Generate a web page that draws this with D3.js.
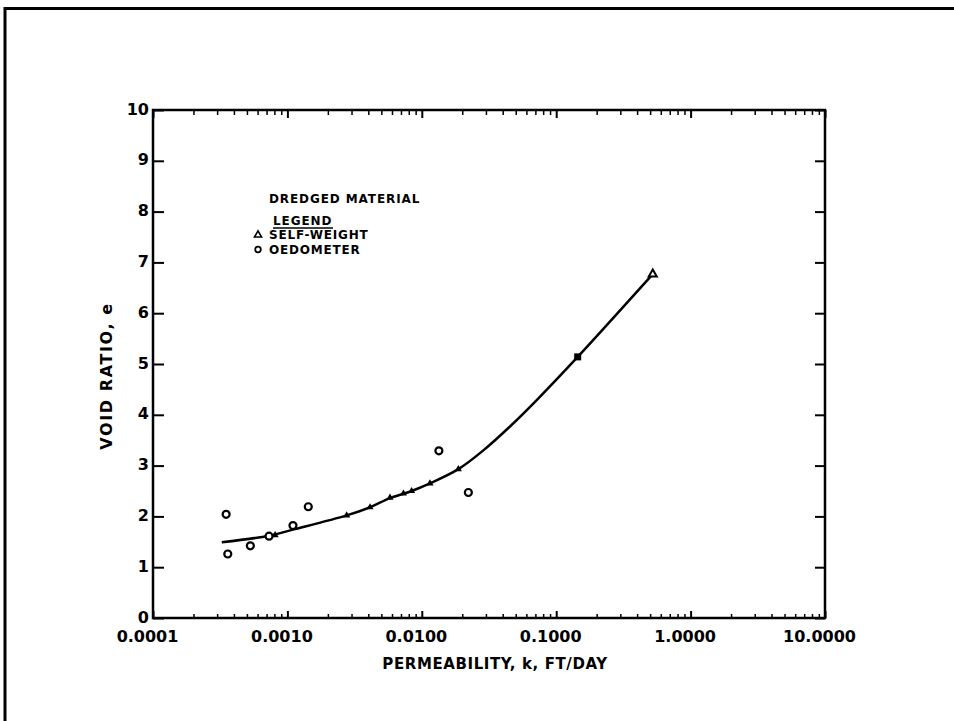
<!DOCTYPE html>
<html>
<head>
<meta charset="utf-8">
<script src="https://cdn.jsdelivr.net/npm/d3@7"></script>
<style>
body { margin: 0; background: #fff; }
svg { display: block; }
text { font-family: "DejaVu Sans", sans-serif; font-weight: bold; fill: #000; }
</style>
</head>
<body>
<div id="chart"></div>
<script>
let width = 954
let height = 721

// oedometer tests, open circles
let oedometerK = [0.00035, 0.00036, 0.00053, 0.00073, 0.0011, 0.00143, 0.0134, 0.0222]
let oedometerE = [2.04, 1.26, 1.42, 1.61, 1.82, 2.19, 3.29, 2.47]

// self-weight test, open triangle
let selfWeightK = [0.523]
let selfWeightE = [6.77]

// small filled marks sitting on the curve
let filledK = [0.00081, 0.00276, 0.00412, 0.0058, 0.0073, 0.0084, 0.0115, 0.0187]
let filledE = [1.63, 2.02, 2.18, 2.37, 2.45, 2.5, 2.65, 2.93]
let squareK = [0.1445]
let squareE = [5.14]

// fitted curve
let curveK = [0.000325, 0.00073, 0.0011, 0.00276, 0.00412, 0.0058, 0.0084, 0.0115, 0.0187, 0.0287, 0.0453, 0.0716, 0.1445, 0.523]
let curveE = [1.49, 1.62, 1.74, 2.02, 2.18, 2.36, 2.5, 2.65, 2.93, 3.3, 3.77, 4.29, 5.14, 6.77]

let xMajor = [0.0001, 0.001, 0.01, 0.1, 1, 10]
let xTickLabels = ['0.0001', '0.0010', '0.0100', '0.1000', '1.0000', '10.0000']
let yTicks = [0, 1, 2, 3, 4, 5, 6, 7, 8, 9, 10]

let plotLeft = 153
let plotRight = 825
let plotTop = 110
let plotBottom = 618

let svg = d3
	.select('#chart')
	.append('svg:svg')
	.attr('width', width)
	.attr('height', height)

svg.append('rect').attr('width', width).attr('height', height).attr('fill', '#fff')

// page frame (top and left edge only)
svg
	.append('path')
	.attr('d', `M5,${height} L5,8.5 L${width},8.5`)
	.attr('fill', 'none')
	.attr('stroke', '#000')
	.attr('stroke-width', 3)

let x = d3.scaleLog().domain([0.0001, 10]).range([plotLeft, plotRight])
let y = d3.scaleLinear().domain([0, 10]).range([plotBottom, plotTop])

let xMinor = x.ticks().filter(d => !xMajor.some(m => Math.abs(m - d) / m < 1e-6))

let clean = g => {
	g.select('.domain').remove()
	g.selectAll('line').attr('stroke', '#000')
}

// bottom axis
svg
	.append('g')
	.attr('transform', `translate(0,${plotBottom})`)
	.call(d3.axisBottom(x).tickValues(xMinor).tickSize(-4).tickFormat(''))
	.call(clean)
	.selectAll('line')
	.attr('stroke-width', 1.5)

let xAxis = svg
	.append('g')
	.attr('transform', `translate(0,${plotBottom})`)
	.call(
		d3
			.axisBottom(x)
			.tickValues(xMajor)
			.tickSize(-7)
			.tickPadding(13)
			.tickFormat((d, i) => xTickLabels[i])
	)
	.call(clean)
xAxis.selectAll('line').attr('stroke-width', 2)
xAxis.selectAll('text').attr('font-size', 16).attr('dx', -6)

// top axis
svg
	.append('g')
	.attr('transform', `translate(0,${plotTop})`)
	.call(d3.axisTop(x).tickValues(xMinor).tickSize(-5).tickFormat(''))
	.call(clean)
	.selectAll('line')
	.attr('stroke-width', 1.5)

svg
	.append('g')
	.attr('transform', `translate(0,${plotTop})`)
	.call(d3.axisTop(x).tickValues(xMajor).tickSize(-8).tickFormat(''))
	.call(clean)
	.selectAll('line')
	.attr('stroke-width', 2)

// left axis
let yAxis = svg
	.append('g')
	.attr('transform', `translate(${plotLeft},0)`)
	.call(d3.axisLeft(y).tickValues(yTicks).tickSize(-11).tickPadding(4).tickFormat(d3.format('d')))
	.call(clean)
yAxis.selectAll('line').attr('stroke-width', 2)
yAxis.selectAll('text').attr('font-size', 16).attr('dy', '0.25em')

// right axis
svg
	.append('g')
	.attr('transform', `translate(${plotRight},0)`)
	.call(d3.axisRight(y).tickValues(yTicks).tickSize(-10).tickFormat(''))
	.call(clean)
	.selectAll('line')
	.attr('stroke-width', 2)

// plot box
svg
	.append('rect')
	.attr('x', plotLeft)
	.attr('y', plotTop)
	.attr('width', plotRight - plotLeft)
	.attr('height', plotBottom - plotTop)
	.attr('fill', 'none')
	.attr('stroke', '#000')
	.attr('stroke-width', 2.5)

// axis titles
svg
	.append('text')
	.attr('x', (plotLeft + plotRight) / 2 + 6)
	.attr('y', 669)
	.attr('text-anchor', 'middle')
	.attr('font-size', 15)
	.style('letter-spacing', '0.6px')
	.text('PERMEABILITY, k, FT/DAY')

svg
	.append('text')
	.attr('transform', `translate(112,376) rotate(-90)`)
	.attr('text-anchor', 'middle')
	.attr('font-size', 16)
	.style('letter-spacing', '1.6px')
	.text('VOID RATIO, e')

// curve
let curve = curveK.map((k, i) => [k, curveE[i]])
svg
	.append('path')
	.datum(curve)
	.attr('fill', 'none')
	.attr('stroke', '#000')
	.attr('stroke-width', 2.5)
	.attr(
		'd',
		d3
			.line()
			.x(d => x(d[0]))
			.y(d => y(d[1]))
			.curve(d3.curveCatmullRom.alpha(0.5))
	)

// filled marks on the curve
svg
	.selectAll('.filled')
	.data(filledK.map((k, i) => [k, filledE[i]]))
	.join('path')
	.attr('class', 'filled')
	.attr('transform', d => `translate(${x(d[0])},${y(d[1])})`)
	.attr('d', d3.symbol(d3.symbolTriangle, 22))
	.attr('fill', '#000')

svg
	.selectAll('.square')
	.data(squareK.map((k, i) => [k, squareE[i]]))
	.join('rect')
	.attr('class', 'square')
	.attr('x', d => x(d[0]) - 3.5)
	.attr('y', d => y(d[1]) - 3.5)
	.attr('width', 7)
	.attr('height', 7)
	.attr('fill', '#000')

// oedometer circles
svg
	.selectAll('.oed')
	.data(oedometerK.map((k, i) => [k, oedometerE[i]]))
	.join('circle')
	.attr('class', 'oed')
	.attr('cx', d => x(d[0]))
	.attr('cy', d => y(d[1]))
	.attr('r', 3.5)
	.attr('fill', '#fff')
	.attr('stroke', '#000')
	.attr('stroke-width', 2.2)

// self-weight triangle
svg
	.selectAll('.sw')
	.data(selfWeightK.map((k, i) => [k, selfWeightE[i]]))
	.join('path')
	.attr('class', 'sw')
	.attr('transform', d => `translate(${x(d[0])},${y(d[1])})`)
	.attr('d', d3.symbol(d3.symbolTriangle, 28))
	.attr('fill', '#fff')
	.attr('stroke', '#000')
	.attr('stroke-width', 2)

// legend
let legend = svg.append('g')
legend
	.append('text')
	.attr('x', 269)
	.attr('y', 203)
	.attr('font-size', 12)
	.style('letter-spacing', '0.9px')
	.text('DREDGED MATERIAL')
legend
	.append('text')
	.attr('x', 273)
	.attr('y', 225)
	.attr('font-size', 12)
	.style('letter-spacing', '0.9px')
	.text('LEGEND')
legend
	.append('line')
	.attr('x1', 273)
	.attr('x2', 333)
	.attr('y1', 228)
	.attr('y2', 228)
	.attr('stroke', '#000')
	.attr('stroke-width', 1.5)
legend
	.append('path')
	.attr('transform', 'translate(258,235)')
	.attr('d', d3.symbol(d3.symbolTriangle, 22))
	.attr('fill', '#fff')
	.attr('stroke', '#000')
	.attr('stroke-width', 1.6)
legend
	.append('text')
	.attr('x', 269)
	.attr('y', 239)
	.attr('font-size', 12)
	.style('letter-spacing', '0.8px')
	.text('SELF-WEIGHT')
legend
	.append('circle')
	.attr('cx', 258)
	.attr('cy', 249.5)
	.attr('r', 2.8)
	.attr('fill', '#fff')
	.attr('stroke', '#000')
	.attr('stroke-width', 1.8)
legend
	.append('text')
	.attr('x', 269)
	.attr('y', 254)
	.attr('font-size', 12)
	.style('letter-spacing', '0.8px')
	.text('OEDOMETER')
</script>
</body>
</html>
